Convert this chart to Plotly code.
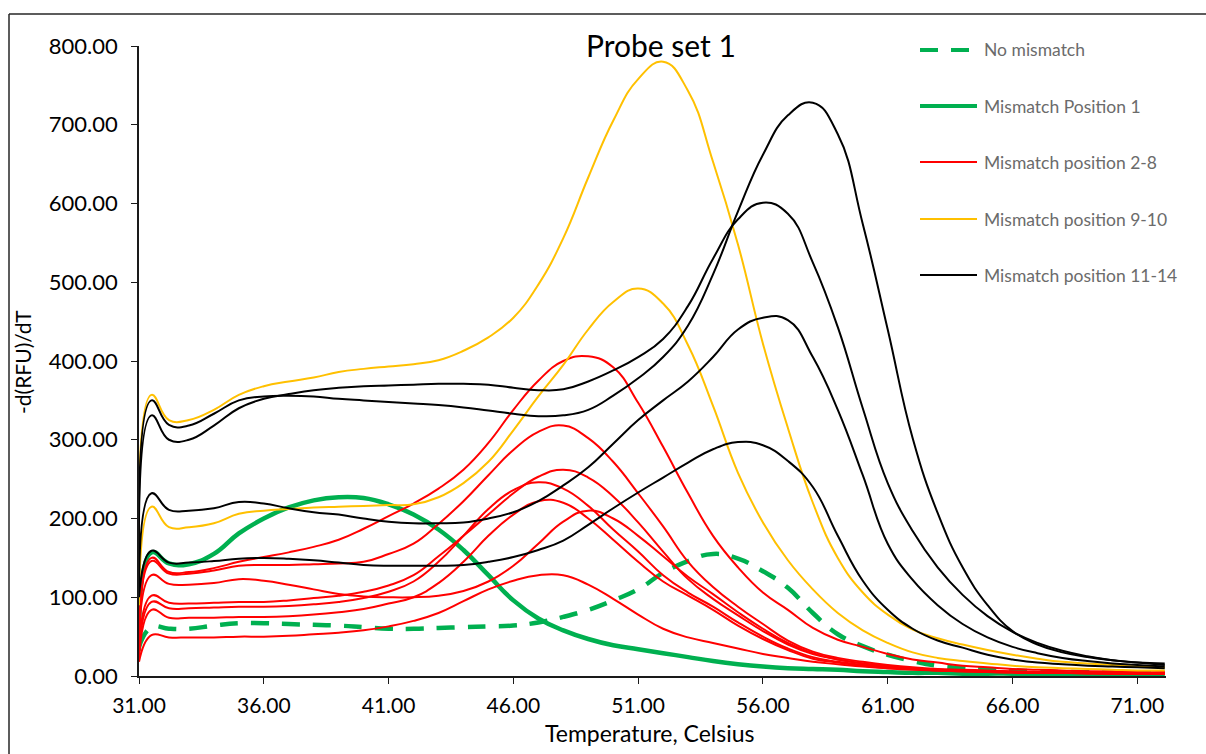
import plotly.graph_objects as go

# Melt-curve derivative data, -d(RFU)/dT versus temperature (Celsius)
temperature = [31.0, 31.5, 32.2, 33, 34, 35, 36, 37, 38, 39, 40, 41, 42, 43, 44, 45, 46, 47, 48, 49,
               50, 51, 52, 53, 54, 55, 56, 57, 58, 59, 60, 61, 62, 63, 64, 65, 66, 67, 68, 69,
               70, 71, 72.1]

no_mismatch = [37, 62, 60, 60, 64, 67, 67, 66, 65, 64, 62, 60, 60, 61, 62, 63, 64, 68, 75, 84,
               96, 110, 131, 146, 155, 149, 133, 112, 80, 53, 38, 27, 19, 13, 10, 8, 7, 6, 5, 5,
               4, 4, 4]

mismatch_pos1 = [32, 157, 143, 142, 155, 181, 200, 214, 223, 227, 226, 218, 205, 186, 160, 128, 96, 73, 58, 47,
                 39, 34, 29, 24, 19, 15, 12, 10, 9, 8, 6, 5, 4, 4, 3, 3, 3, 2, 2, 2,
                 2, 2, 2]

# Mismatch positions 2-8 (seven probes)
mm2_8_a = [45, 150, 132, 132, 137, 145, 151, 157, 164, 173, 187, 203, 219, 238, 262, 296, 338, 375, 400, 406,
           392, 347, 291, 232, 178, 138, 106, 84, 61, 46, 37, 28, 21, 17, 13, 11, 9, 8, 7, 6,
           6, 5, 5]
mm2_8_b = [40, 146, 130, 130, 134, 140, 141, 141, 142, 143, 145, 155, 168, 193, 222, 255, 287, 310, 318, 302,
           272, 232, 190, 145, 113, 88, 66, 45, 31, 23, 18, 14, 11, 9, 8, 7, 6, 5, 5, 4,
           4, 4, 4]
mm2_8_c = [30, 102, 93, 92, 93, 94, 94, 96, 99, 102, 107, 115, 128, 152, 178, 205, 232, 253, 262, 252,
           228, 195, 158, 123, 98, 77, 57, 40, 28, 21, 16, 13, 10, 8, 7, 6, 5, 5, 4, 4,
           4, 3, 3]
mm2_8_d = [25, 94, 86, 86, 87, 88, 88, 89, 91, 94, 99, 107, 120, 145, 178, 212, 236, 246, 238, 216,
           186, 158, 128, 106, 88, 68, 50, 35, 24, 18, 14, 11, 9, 7, 6, 5, 5, 4, 4, 4,
           3, 3, 3]
mm2_8_e = [22, 84, 74, 74, 74, 75, 75, 76, 78, 81, 85, 92, 100, 118, 145, 178, 205, 222, 220, 200,
           173, 145, 120, 102, 84, 64, 47, 33, 22, 17, 13, 10, 8, 7, 6, 5, 4, 4, 4, 3,
           3, 3, 3]
mm2_8_f = [35, 128, 117, 116, 118, 123, 121, 116, 110, 104, 101, 100, 100, 102, 108, 120, 140, 168, 196, 210,
           200, 178, 152, 126, 104, 81, 60, 42, 29, 21, 16, 12, 10, 8, 7, 6, 5, 5, 4, 4,
           4, 3, 3]
mm2_8_g = [18, 52, 49, 49, 49, 50, 50, 51, 53, 55, 58, 63, 70, 80, 95, 110, 121, 128, 128, 116,
           98, 78, 60, 49, 42, 35, 28, 23, 18, 15, 12, 10, 9, 7, 6, 6, 5, 4, 4, 4,
           3, 3, 3]

# Mismatch positions 9-10
mm9_10_a = [96, 357, 325, 325, 338, 357, 368, 374, 379, 386, 390, 393, 396, 401, 413, 430, 455, 497, 556, 633,
            705, 758, 780, 743, 653, 548, 422, 315, 220, 150, 106, 78, 59, 48, 40, 33, 27, 22, 18, 16,
            14, 12, 11]
mm9_10_b = [90, 215, 189, 189, 194, 206, 210, 212, 214, 215, 216, 217, 218, 227, 245, 272, 312, 355, 395, 440,
            475, 492, 473, 420, 343, 258, 195, 147, 110, 80, 58, 42, 30, 23, 19, 16, 13, 11, 10, 9,
            8, 7, 7]

# Mismatch positions 11-14
mm11_14_a = [130, 350, 319, 318, 333, 350, 355, 356, 355, 352, 350, 348, 346, 344, 341, 337, 333, 330, 331, 338,
             356, 378, 405, 445, 510, 590, 662, 712, 728, 688, 574, 440, 302, 207, 138, 90, 57, 40, 30, 24,
             20, 17, 16]
mm11_14_b = [120, 331, 300, 300, 318, 340, 352, 358, 363, 366, 368, 369, 370, 371, 371, 370, 366, 363, 364, 374,
             388, 405, 428, 470, 530, 580, 601, 587, 525, 443, 340, 245, 184, 138, 103, 76, 56, 42, 32, 25,
             20, 17, 14]
mm11_14_c = [110, 232, 211, 210, 213, 221, 219, 213, 208, 205, 200, 196, 194, 194, 195, 200, 208, 222, 242, 265,
             295, 325, 350, 374, 405, 440, 455, 452, 405, 338, 255, 168, 122, 90, 66, 49, 37, 29, 23, 19,
             16, 14, 12]
mm11_14_d = [100, 159, 144, 144, 146, 149, 150, 149, 147, 144, 141, 140, 140, 140, 141, 145, 151, 160, 172, 192,
             213, 233, 252, 271, 288, 297, 293, 273, 240, 178, 121, 84, 60, 45, 36, 27, 21, 17, 15, 13,
             12, 11, 10]

x_ticks = [31, 36, 41, 46, 51, 56, 61, 66, 71]
y_ticks = [0, 100, 200, 300, 400, 500, 600, 700, 800]

GREEN = "#00B050"
RED = "#FF0000"
YELLOW = "#FFC000"
BLACK = "#000000"
FONT = "Lato"

series = [
    ("No mismatch", GREEN, 4.5, "18px,13px", [no_mismatch]),
    ("Mismatch Position 1", GREEN, 4.5, "solid", [mismatch_pos1]),
    ("Mismatch position 2-8", RED, 2, "solid",
     [mm2_8_a, mm2_8_b, mm2_8_c, mm2_8_d, mm2_8_e, mm2_8_f, mm2_8_g]),
    ("Mismatch position 9-10", YELLOW, 2, "solid", [mm9_10_a, mm9_10_b]),
    ("Mismatch position 11-14", BLACK, 2, "solid", [mm11_14_a, mm11_14_b, mm11_14_c, mm11_14_d]),
]

fig = go.Figure()
for name, color, width, dash, curves in series:
    for values in curves:
        fig.add_trace(go.Scatter(
            x=temperature, y=values, mode="lines", name=name, showlegend=False,
            line=dict(color=color, width=width, dash=dash, shape="spline", smoothing=1.3),
            hoverinfo="x+y+name",
        ))

FIG_W, FIG_H = 1206, 754
M_L, M_R, M_T, M_B = 139, 40, 46, 78
PW = FIG_W - M_L - M_R
PH = FIG_H - M_T - M_B


def xp(px):
    return (px - M_L) / PW


def yp(py):
    return (FIG_H - M_B - py) / PH


shapes = [
    # outer chart frame (left and top edges visible)
    dict(type="line", xref="paper", yref="paper", x0=xp(9), x1=xp(9), y0=yp(14), y1=yp(FIG_H + 5),
         line=dict(color="#262626", width=1.5)),
    dict(type="line", xref="paper", yref="paper", x0=xp(9), x1=xp(FIG_W + 5), y0=yp(14), y1=yp(14),
         line=dict(color="#262626", width=1.5)),
]
annotations = []

# legend drawn at the right of the plot area
legend_rows = [50, 106, 162, 219, 275]
for (name, color, width, dash, _), row in zip(series, legend_rows):
    lw = 4 if color == GREEN else 2
    shapes.append(dict(type="line", xref="paper", yref="paper",
                       x0=xp(920), x1=xp(977), y0=yp(row), y1=yp(row),
                       line=dict(color=color, width=lw, dash=dash)))
    annotations.append(dict(text=name, xref="paper", yref="paper", x=xp(982), y=yp(row),
                            xanchor="left", yanchor="middle", showarrow=False,
                            font=dict(family=FONT, size=17.5, color="#6b6b6b")))

annotations += [
    dict(text="Probe set 1", xref="paper", yref="paper", x=xp(661), y=yp(45),
         xanchor="center", yanchor="middle", showarrow=False,
         font=dict(family=FONT, size=30, color="#000000")),
    dict(text="-d(RFU)/dT", xref="paper", yref="paper", x=xp(22), y=yp(362),
         xanchor="center", yanchor="middle", showarrow=False, textangle=-90,
         font=dict(family=FONT, size=21, color="#000000")),
    dict(text="Temperature, Celsius", xref="paper", yref="paper", x=xp(650), y=yp(733),
         xanchor="center", yanchor="middle", showarrow=False,
         font=dict(family=FONT, size=23, color="#000000")),
]

fig.update_layout(
    width=FIG_W, height=FIG_H,
    margin=dict(l=M_L, r=M_R, t=M_T, b=M_B, autoexpand=False),
    paper_bgcolor="white", plot_bgcolor="white",
    showlegend=False,
    shapes=shapes, annotations=annotations,
    font=dict(family=FONT, color="#000000"),
)
fig.update_xaxes(
    range=[31, 72.15], tickvals=x_ticks, ticktext=[f"{t:.2f}" for t in x_ticks],
    showgrid=False, zeroline=False, showline=True, linecolor="#1a1a1a", linewidth=1.5,
    ticks="outside", ticklen=6, tickwidth=1.3, tickcolor="#1a1a1a",
    tickfont=dict(family=FONT, size=21, color="#000000"), ticklabelstandoff=4,
)
fig.update_yaxes(
    range=[0, 800], tickvals=y_ticks, ticktext=[f"{t:.2f}" for t in y_ticks],
    showgrid=False, zeroline=False, showline=True, linecolor="#1a1a1a", linewidth=1.5,
    ticks="outside", ticklen=6, tickwidth=1.3, tickcolor="#1a1a1a",
    tickfont=dict(family=FONT, size=22, color="#000000"), ticklabelstandoff=9,
)

fig.write_html("out.html")
